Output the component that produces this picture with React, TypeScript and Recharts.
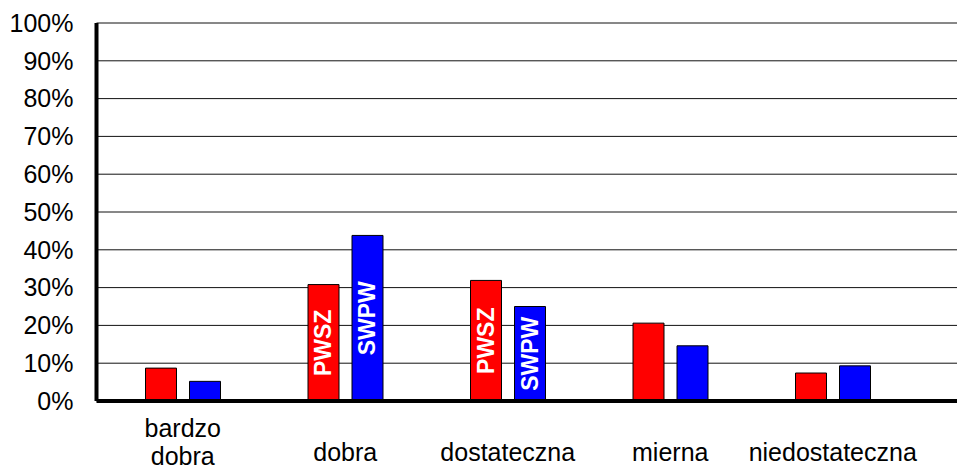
import React from 'react';
import { BarChart, Bar, XAxis, YAxis, CartesianGrid, LabelList } from 'recharts';

const categories = ['bardzo dobra', 'dobra', 'dostateczna', 'mierna', 'niedostateczna'];
const pwszValues = [8.7, 30.8, 31.9, 20.6, 7.4];
const swpwValues = [5.2, 43.8, 25.0, 14.6, 9.3];
const yTicks = [0, 10, 20, 30, 40, 50, 60, 70, 80, 90, 100];
const seriesNames = ['PWSZ', 'SWPW'];
const seriesColors = ['#FF0000', '#0000FF'];
const labeledCategories = ['dobra', 'dostateczna'];

const data = categories.map((c, i) => ({
  category: c,
  PWSZ: pwszValues[i],
  SWPW: swpwValues[i],
}));

const FONT = '"Liberation Sans", Arial, Helvetica, sans-serif';

const CategoryTick = (props: any) => {
  const { x, y, payload } = props;
  const lines = String(payload.value).split(' ');
  const lineHeight = 28;
  const first = y + 60 - (lines.length - 1) * 24;
  return (
    <text x={x} y={first} textAnchor="middle" fontFamily={FONT} fontSize={25} fill="#000">
      {lines.map((l, i) => (
        <tspan key={i} x={x} y={first + i * lineHeight}>
          {l}
        </tspan>
      ))}
    </text>
  );
};

const makeBarLabel = (name: string) => (props: any) => {
  const { x, y, width, height, index } = props;
  if (!labeledCategories.includes(categories[index])) return null;
  const cx = Number(x) + Number(width) / 2;
  const cy = Number(y) + Number(height) / 2;
  return (
    <text
      x={cx}
      y={cy}
      transform={`rotate(-90 ${cx} ${cy})`}
      textAnchor="middle"
      dominantBaseline="central"
      fontFamily={FONT}
      fontWeight="bold"
      fontSize={23}
      fill="#fff"
    >
      {name}
    </text>
  );
};

export default function App() {
  return (
    <div style={{ position: 'absolute', left: 0, top: 0, width: 957, height: 474, background: '#fff' }}>
      <BarChart
        width={957}
        height={474}
        data={data}
        margin={{ top: 23, right: 0, bottom: 0, left: 0 }}
        barSize={31}
        barGap={13}
      >
        <CartesianGrid vertical={false} stroke="#111" strokeWidth={1} />
        <YAxis
          width={96.5}
          domain={[0, 100]}
          ticks={yTicks}
          interval={0}
          tickFormatter={(v: number) => `${v}%`}
          tickLine={false}
          tickSize={0}
          tickMargin={23}
          axisLine={{ stroke: '#000', strokeWidth: 4 }}
          tick={{ fontFamily: FONT, fontSize: 25, fill: '#000' }}
        />
        {seriesNames.map((name, i) => (
          <Bar
            key={name}
            dataKey={name}
            fill={seriesColors[i]}
            stroke="#000"
            strokeWidth={1}
            isAnimationActive={false}
          >
            <LabelList dataKey={name} content={makeBarLabel(name)} />
          </Bar>
        ))}
        <XAxis
          dataKey="category"
          height={73}
          padding={{ left: 5, right: 43 }}
          interval={0}
          tickLine={false}
          tickSize={0}
          tickMargin={0}
          axisLine={{ stroke: '#000', strokeWidth: 4 }}
          tick={<CategoryTick />}
        />
      </BarChart>
    </div>
  );
}
